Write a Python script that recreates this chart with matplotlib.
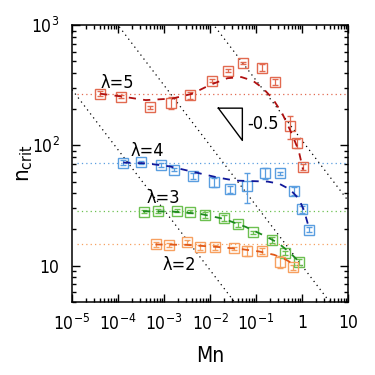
import numpy as np
import matplotlib
matplotlib.use("Agg")
import matplotlib.pyplot as plt
from matplotlib.ticker import LogLocator, NullFormatter, FixedLocator

plt.rcParams["font.family"] = ["DejaVu Sans"]
plt.rcParams["font.stretch"] = "condensed"

# measured points (Mn, n_crit, error)
mn5 = [4.1e-5, 1.15e-4, 5.0e-4, 1.4e-3, 3.7e-3, 0.011, 0.025, 0.051, 0.133, 0.263, 0.54, 0.766, 1.05]
n5 = [269, 255, 208, 226, 260, 346, 419, 482, 444, 337, 144, 104, 66]
e5 = [12, 8, 6, 25, 16, 10, 10, 10, 28, 22, 30, 8, 4]

mn4 = [1.3e-4, 3.2e-4, 8.7e-4, 1.65e-3, 4.2e-3, 0.0124, 0.0272, 0.063, 0.16, 0.33, 0.66, 1.0, 1.42]
n4 = [72, 72.6, 69, 63, 56, 49.5, 43, 46, 58.5, 58.5, 42, 29.4, 19.9]
e4 = [3, 2, 3, 2, 3, 4, 3, 13, 6, 2, 3, 2, 1]

mn3 = [3.7e-4, 7.4e-4, 1.9e-3, 3.7e-3, 7.7e-3, 0.0198, 0.041, 0.085, 0.22, 0.427, 0.875]
n3 = [28.2, 28.4, 28.7, 28.2, 26.4, 24.9, 22, 18.9, 16.4, 12.7, 10.8]
e3 = [1, 1, 1, 1, 1.3, 1.5, 1, 0.5, 1, 0.5, 0.6]

mn2 = [6.6e-4, 1.3e-3, 3.2e-3, 6.1e-3, 0.013, 0.034, 0.065, 0.135, 0.33, 0.65]
n2 = [15, 14.8, 15.6, 14.2, 14.2, 13.9, 13.3, 13.2, 10.8, 9.7]
e2 = [0.6, 0.6, 0.6, 0.6, 0.6, 0.4, 1.2, 0.8, 1.2, 0.5]

# fitted curves
fx5 = [4.1e-5, 1.2e-4, 4.0e-4, 1.5e-3, 4.0e-3, 1.0e-2, 2.4e-2, 4.8e-2, 8.5e-2, 0.14, 0.23, 0.37, 0.6, 0.85, 1.05]
fy5 = [269, 255, 238, 245, 268, 318, 362, 370, 345, 300, 245, 185, 125, 90, 63]
fx4 = [1.3e-4, 4.0e-4, 1.3e-3, 4.5e-3, 1.5e-2, 3.5e-2, 8.0e-2, 0.18, 0.32, 0.55, 0.85, 1.1, 1.35]
fy4 = [72, 71, 67, 60, 54, 51, 50.5, 50, 48, 43, 36, 29, 22]
fx3 = [3.5e-4, 1.5e-3, 6.0e-3, 0.02, 0.06, 0.15, 0.3, 0.55, 0.9]
fy3 = [28.3, 28.2, 27, 24.5, 21, 17.8, 15.5, 12.8, 10.6]
fx2 = [6.5e-4, 3.0e-3, 0.015, 0.05, 0.12, 0.25, 0.45, 0.65]
fy2 = [15, 14.9, 14.3, 13.7, 13.1, 12.3, 11.2, 10.3]

plateaus = [269, 72, 28.7, 15]
prefactors = [0.92, 10, 110]
triangle_x = [0.0152, 0.0505, 0.0505, 0.0152]
triangle_y = [204, 204, 110, 204]

mark_cols = ["#e26a50", "#5a9ee0", "#6cc050", "#f7a060"]
fit_cols = ["#b01010", "#10189a", "#1e8a1e", "#e05818"]

fig = plt.figure(figsize=(3.75, 3.75), dpi=100)
ax = fig.add_axes([0.192, 0.195, 0.736, 0.738])

xx = np.logspace(-5, 1, 200)
for c in prefactors:
    ax.plot(xx, c * xx ** -0.5, color="k", ls=(0, (1, 3)), lw=0.9)

for y, c in zip(plateaus, mark_cols):
    ax.plot([1.3e-5, 9], [y, y], color=c, ls=(0, (1, 2.5)), lw=0.9)

series = [(mn5, n5, e5, fx5, fy5), (mn4, n4, e4, fx4, fy4),
          (mn3, n3, e3, fx3, fy3), (mn2, n2, e2, fx2, fy2)]
for (mx, my, me, fx, fy), mc, fc in zip(series, mark_cols, fit_cols):
    ax.errorbar(mx, my, yerr=me, fmt="s", mfc="none", mec=mc, mew=1.0, ms=7,
                ecolor=mc, elinewidth=0.9, capsize=2, capthick=0.9, zorder=3)
    ax.plot(fx, fy, color=fc, ls=(0, (4, 4)), lw=1.3, zorder=4)

ax.plot(triangle_x, triangle_y, color="k", lw=1.0)
ax.text(0.066, 152, "-0.5", fontsize=13, va="center")

labels = [("λ=5", 9.5e-5, 333), ("λ=4", 4.3e-4, 90.6), ("λ=3", 9.6e-4, 36.3),
          ("λ=2", 2.1e-3, 10.2)]
for s, x, y in labels:
    ax.text(x, y, s, fontsize=13, ha="center", va="center")

ax.set_xscale("log")
ax.set_yscale("log")
ax.set_xlim(1e-5, 10)
ax.set_ylim(5, 1000)

ax.xaxis.set_major_locator(FixedLocator([1e-5, 1e-4, 1e-3, 1e-2, 1e-1, 1, 10]))
ax.set_xticklabels(["$10^{-5}$", "$10^{-4}$", "$10^{-3}$", "$10^{-2}$",
                    "$10^{-1}$", "1", "10"])
ax.yaxis.set_major_locator(FixedLocator([10, 100, 1000]))
ax.set_yticklabels(["10", "$10^{2}$", "$10^{3}$"])
ax.xaxis.set_minor_locator(LogLocator(base=10, subs=np.arange(2, 10), numticks=20))
ax.yaxis.set_minor_locator(LogLocator(base=10, subs=np.arange(2, 10), numticks=20))
ax.xaxis.set_minor_formatter(NullFormatter())
ax.yaxis.set_minor_formatter(NullFormatter())

ax.tick_params(which="both", direction="in", top=True, right=True, labelsize=12.5,
               width=1.0, pad=9)
ax.tick_params(which="major", length=6)
ax.tick_params(which="minor", length=3)
for sp in ax.spines.values():
    sp.set_linewidth(1.1)

ax.set_xlabel("Mn", fontsize=15, labelpad=8)
ax.set_ylabel("n$_{\\mathrm{crit}}$", fontsize=16, labelpad=-3)

fig.savefig("out.png", dpi=100)
